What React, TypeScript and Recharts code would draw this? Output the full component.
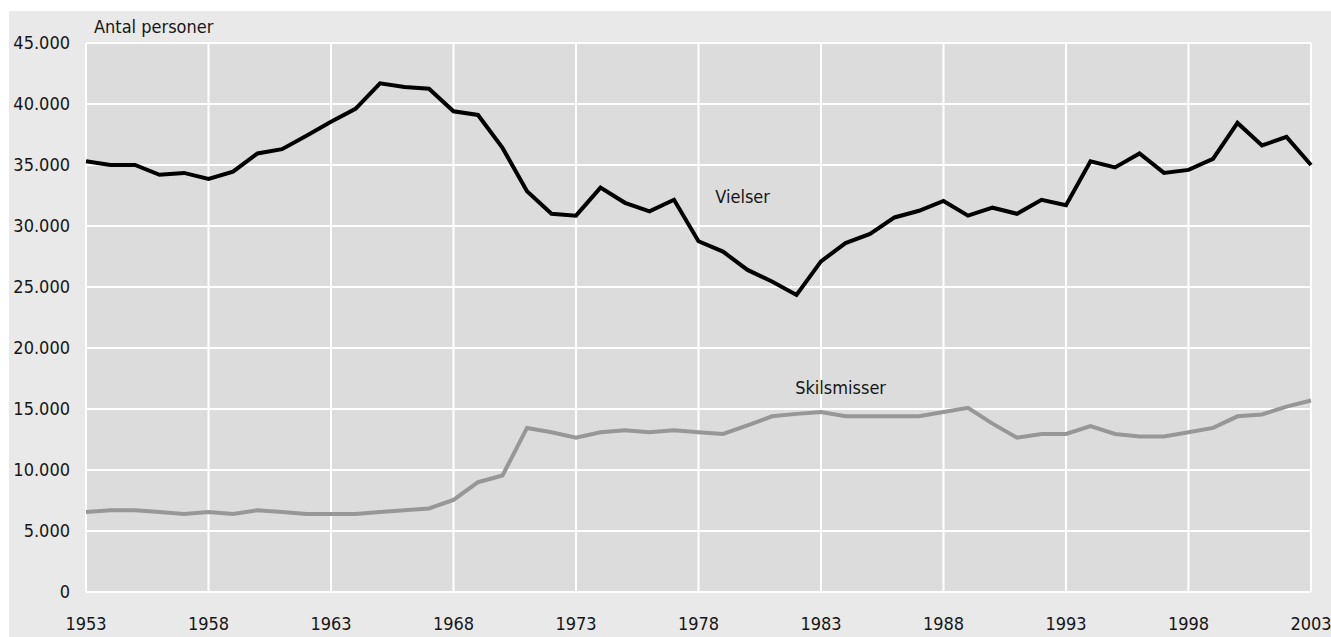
import { LineChart, Line, XAxis, YAxis, CartesianGrid, ReferenceDot } from "recharts";

const years = [
  1953, 1954, 1955, 1956, 1957, 1958, 1959, 1960, 1961, 1962, 1963, 1964, 1965,
  1966, 1967, 1968, 1969, 1970, 1971, 1972, 1973, 1974, 1975, 1976, 1977, 1978,
  1979, 1980, 1981, 1982, 1983, 1984, 1985, 1986, 1987, 1988, 1989, 1990, 1991,
  1992, 1993, 1994, 1995, 1996, 1997, 1998, 1999, 2000, 2001, 2002, 2003,
];

const vielser = [
  35300, 35000, 35000, 34200, 34350, 33850, 34450, 35950, 36300, 37400, 38550,
  39600, 41700, 41400, 41250, 39400, 39100, 36400, 32850, 31000, 30850, 33150,
  31900, 31200, 32150, 28750, 27900, 26400, 25450, 24350, 27100, 28600, 29350,
  30700, 31250, 32050, 30850, 31500, 31000, 32150, 31700, 35300, 34800, 35950,
  34350, 34600, 35500, 38450, 36600, 37300, 35000,
];

const skilsmisser = [
  6550, 6700, 6700, 6550, 6400, 6550, 6400, 6700, 6550, 6400, 6400, 6400, 6550,
  6700, 6850, 7550, 9000, 9550, 13450, 13100, 12650, 13100, 13250, 13100, 13250,
  13100, 12950, 13650, 14400, 14600, 14750, 14400, 14400, 14400, 14400, 14750,
  15100, 13800, 12650, 12950, 12950, 13600, 12950, 12750, 12750, 13100, 13450,
  14400, 14550, 15200, 15700,
];

const xTicks = [1953, 1958, 1963, 1968, 1973, 1978, 1983, 1988, 1993, 1998, 2003];
const yTicks = [0, 5000, 10000, 15000, 20000, 25000, 30000, 35000, 40000, 45000];

const FONT = '"Liberation Sans Narrow", "DejaVu Sans Condensed", sans-serif';
const TEXT = "#161616";
const FS = 18;

// danish thousands separator
const fmt = (v: number) => String(v).replace(/\B(?=(\d{3})+(?!\d))/g, ".");

export default function App() {
  const data = years.map((y, i) => ({
    year: y,
    vielser: vielser[i],
    skilsmisser: skilsmisser[i],
  }));

  return (
    <div
      style={{
        position: "absolute",
        left: 9,
        top: 11,
        width: 1322,
        height: 626,
        background: "#e9e9e9",
        fontFamily: FONT,
      }}
    >
      <div
        style={{
          position: "absolute",
          left: 85,
          top: 5,
          fontSize: FS,
          color: TEXT,
          lineHeight: "22px",
        }}
      >
        Antal personer
      </div>
      <LineChart
        width={1322}
        height={626}
        data={data}
        margin={{ top: 32, right: 20, bottom: 0, left: 0 }}
      >
        <CartesianGrid stroke="#ffffff" strokeWidth={2} fill="#dcdcdc" />
        <XAxis
          dataKey="year"
          type="number"
          domain={[1953, 2003]}
          ticks={xTicks}
          interval={0}
          height={45}
          axisLine={false}
          tickLine={false}
          tickSize={0}
          tickMargin={25}
          tick={{ fontSize: FS, fill: TEXT, fontFamily: FONT }}
        />
        <YAxis
          domain={[0, 45000]}
          ticks={yTicks}
          interval={0}
          width={77}
          axisLine={false}
          tickLine={false}
          tickSize={0}
          tickMargin={16}
          tickFormatter={(v) => fmt(v as number)}
          tick={{ fontSize: FS, fill: TEXT, fontFamily: FONT }}
        />
        <Line
          dataKey="skilsmisser"
          stroke="#979797"
          strokeWidth={4}
          dot={false}
          activeDot={false}
          type="linear"
          isAnimationActive={false}
        />
        <Line
          dataKey="vielser"
          stroke="#000000"
          strokeWidth={4}
          dot={false}
          activeDot={false}
          type="linear"
          isAnimationActive={false}
        />
        <ReferenceDot
          x={1979.8}
          y={32450}
          r={0}
          fill="none"
          stroke="none"
          label={{ value: "Vielser", position: "center", fontSize: FS, fill: TEXT, fontFamily: FONT }}
        />
        <ReferenceDot
          x={1983.8}
          y={16750}
          r={0}
          fill="none"
          stroke="none"
          label={{ value: "Skilsmisser", position: "center", fontSize: FS, fill: TEXT, fontFamily: FONT }}
        />
      </LineChart>
    </div>
  );
}
